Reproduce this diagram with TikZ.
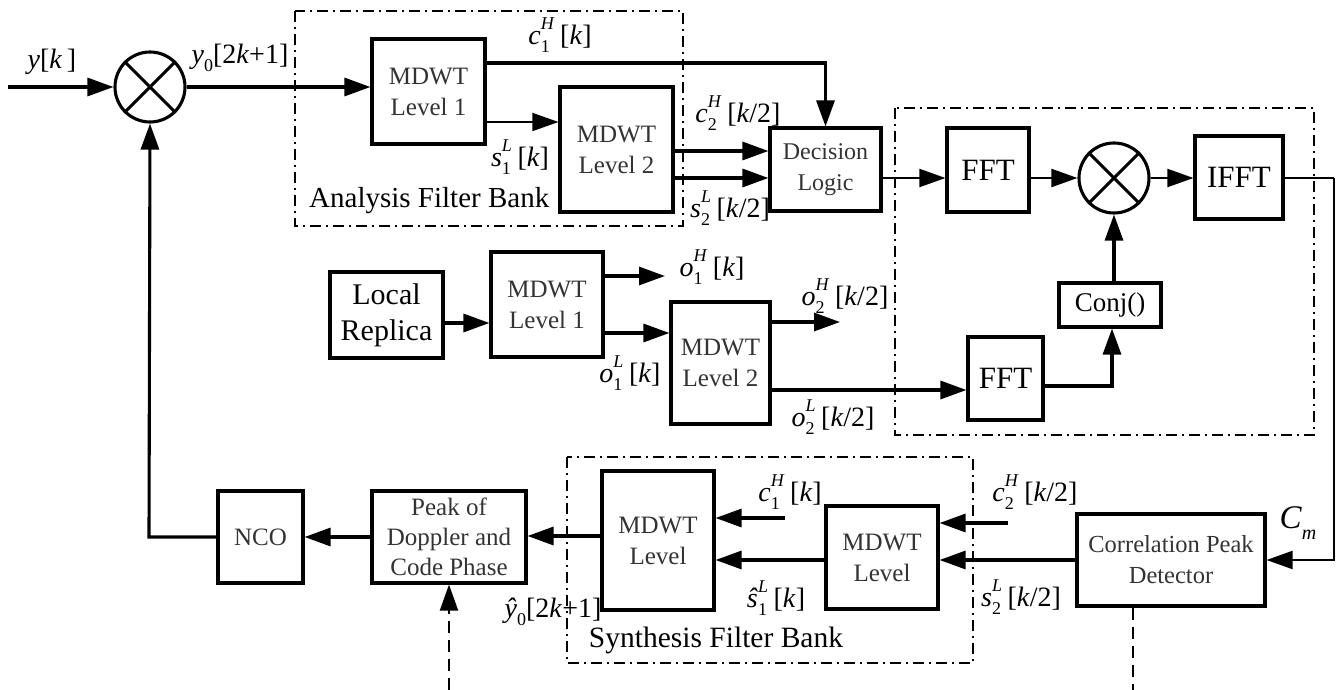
\documentclass[tikz,border=0pt]{standalone}
\usepackage{fontspec}
\setmainfont{Liberation Serif}
\usetikzlibrary{arrows.meta,calc}
\newcommand{\subsup}[3]{\textit{#1}\rlap{\raisebox{-0.28em}{\fontsize{18}{18}\selectfont #2}}\raisebox{0.52em}{\fontsize{18}{18}\selectfont\textit{#3}}\hspace{0.2em}}
\newcommand{\smallsub}[1]{\raisebox{-0.28em}{\fontsize{18}{18}\selectfont #1}}
\begin{document}
\begin{tikzpicture}[x=1pt,y=-1pt,
  blk/.style={draw, line width=3.1pt, inner sep=0pt, align=center, text=black!80},
  mixer/.style={draw, circle, line width=3.1pt, minimum size=70pt, inner sep=0pt},
  arr/.style={line width=3.1pt, -{Triangle[length=26pt,width=18pt]}},
  tarr/.style={line width=1.4pt, -{Triangle[length=26pt,width=18pt]}},
  marr/.style={line width=2pt, -{Triangle[length=26pt,width=18pt]}},
  grp/.style={line width=1.6pt, dash pattern=on 11pt off 5pt on 2pt off 5pt},
  dsh/.style={line width=2pt, dash pattern=on 12pt off 7pt},
  lbl/.style={font=\fontsize{28}{30}\selectfont, inner sep=0pt},
  bigtxt/.style={font=\fontsize{31}{34}\selectfont},
  smtxt/.style={font=\fontsize{25}{31}\selectfont}]
\useasboundingbox (0,0) rectangle (1336,690);

% group frames
\draw[grp] (295,11) rectangle (683,226);
\draw[grp] (895,108) rectangle (1314,435);
\draw[grp] (567,457) rectangle (973,663);

% blocks
\node[mixer] (mix1) at (150,87) {};
\draw[line width=3.1pt] (mix1.north east) -- (mix1.south west) (mix1.north west) -- (mix1.south east);
\node[blk, smtxt, minimum width=113pt, minimum height=105pt] (L1a) at (428.5,91.5) {MDWT\\Level 1};
\node[blk, smtxt, minimum width=113pt, minimum height=125pt] (L2a) at (616.5,149.5) {MDWT\\Level 2};
\node[blk, smtxt, font=\fontsize{24}{31}\selectfont, minimum width=111pt, minimum height=83pt] (Dec) at (825.5,169.5) {Decision\\Logic};
\node[blk, bigtxt, text=black, minimum width=82pt, minimum height=84pt] (FFT1) at (988,170) {FFT};
\node[mixer] (mix2) at (1114,178) {};
\draw[line width=3.1pt] (mix2.north east) -- (mix2.south west) (mix2.north west) -- (mix2.south east);
\node[blk, bigtxt, text=black, minimum width=88pt, minimum height=83pt] (IFFT) at (1239,177.5) {IFFT};
\node[blk, text=black, font=\fontsize{27}{30}\selectfont, minimum width=102pt, minimum height=44pt] (Conj) at (1110,305) {Conj()};
\node[blk, bigtxt, text=black, minimum width=75pt, minimum height=83pt] (FFT2) at (1005.5,378.5) {FFT};
\node[blk, text=black, font=\fontsize{30}{36}\selectfont, minimum width=113pt, minimum height=86pt] (LR) at (386.5,315) {Local\\Replica};
\node[blk, smtxt, minimum width=112pt, minimum height=105pt] (L1b) at (547,304.5) {MDWT\\Level 1};
\node[blk, smtxt, minimum width=99pt, minimum height=122pt] (L2b) at (720.5,363) {MDWT\\Level 2};
\node[blk, font=\fontsize{25}{30}\selectfont, minimum width=85pt, minimum height=92pt] (NCO) at (260.5,537) {NCO};
\node[blk, font=\fontsize{25}{30}\selectfont, minimum width=154pt, minimum height=92pt] (Peak) at (449,537) {Peak of\\Doppler and\\Code Phase};
\node[blk, smtxt, minimum width=112pt, minimum height=139pt] (SynL) at (658,540.5) {MDWT\\Level};
\node[blk, smtxt, minimum width=112pt, minimum height=103pt] (SynR) at (882,557.5) {MDWT\\Level};
\node[blk, font=\fontsize{24.5}{31}\selectfont, minimum width=188pt, minimum height=92pt] (CPD) at (1171,560) {Correlation Peak\\Detector};

% free ends
\coordinate (in) at (8,87);
\coordinate (o1Hend) at (665,276);
\coordinate (o2Hend) at (840,322);
\coordinate (rc) at (1334,178);
\coordinate (c2Hin) at (1008,523);
\coordinate (c1Hin) at (785,518);
\coordinate (fb) at (149,537);
\coordinate (bot1) at (1133,690);
\coordinate (bot2) at (449,690);

% connectors: analysis
\draw[arr] (in) -- (mix1.west);
\draw[arr] (mix1.east) -- (mix1.east -| L1a.west);
\draw[arr] ([yshift=28.5pt]L1a.east) -| (Dec.north);
\draw[tarr] ([yshift=-30.5pt]L1a.east) -- ([yshift=-30.5pt]L1a.east -| L2a.west);
\draw[arr] ([yshift=-1.5pt]L2a.east) -- ([yshift=-1.5pt]L2a.east -| Dec.west);
\draw[arr] ([yshift=-28.5pt]L2a.east) -- ([yshift=-28.5pt]L2a.east -| Dec.west);
\draw[marr] ([yshift=-8.5pt]Dec.east) -- ([yshift=-8.5pt]Dec.east -| FFT1.west);
\draw[marr] (mix2.west -| FFT1.east) -- (mix2.west);
\draw[marr] (mix2.east) -- (mix2.east -| IFFT.west);
\draw[arr] (Conj.north -| mix2.south) -- (mix2.south);
\draw[arr] ([yshift=-7.5pt]FFT2.east) -| ([xshift=2pt]Conj.south);
\draw[line width=2pt] (rc -| IFFT.east) -- (rc);
\draw[marr] (rc) |- (CPD.east);

% replica branch
\draw[arr] ([yshift=-8pt]LR.east) -- ([yshift=-8pt]LR.east -| L1b.west);
\draw[arr] ([yshift=28.5pt]L1b.east) -- (o1Hend);
\draw[arr] ([yshift=-28.5pt]L1b.east) -- ([yshift=-28.5pt]L1b.east -| L2b.west);
\draw[arr] ([yshift=41pt]L2b.east) -- (o2Hend);
\draw[arr] ([yshift=-27pt]L2b.east) -- ([yshift=-27pt]L2b.east -| FFT2.west);

% synthesis
\draw[arr] (CPD.west) -- (CPD.west -| SynR.east);
\draw[arr] (c2Hin) -- (c2Hin -| SynR.east);
\draw[arr] ([yshift=-2.5pt]SynR.west) -- ([yshift=-2.5pt]SynR.west -| SynL.east);
\draw[arr] (c1Hin) -- (c1Hin -| SynL.east);
\draw[arr] ([yshift=4.5pt]SynL.west) -- ([yshift=4.5pt]SynL.west -| Peak.east);
\draw[arr] (Peak.west) -- (Peak.west -| NCO.east);
\draw[arr] (NCO.west) -- (fb) -- (mix1.south);
\draw[dsh] (CPD.south -| bot1) -- (bot1);
\draw[dsh, -{Triangle[length=26pt,width=18pt]}] (bot2) -- (Peak.south);

% labels
\node[lbl] (tyk) at (52,62) {\textit{y}[\textit{k}\,]};
\node[lbl] (ty0) at (240,58) {\textit{y}\smallsub{0}[2\textit{k}+1]};
\node[lbl] (tc1H) at (560,35) {\subsup{c}{1}{H}[\textit{k}]};
\node[lbl] (ts1L) at (520,157) {\subsup{s}{1}{L}[\textit{k}]};
\node[lbl] (tc2H) at (738,113) {\subsup{c}{2}{H}[\textit{k}/2]};
\node[lbl] (ts2L) at (730,208) {\subsup{s}{2}{L}[\textit{k}/2]};
\node[lbl, anchor=west, font=\fontsize{29}{30}\selectfont] (tafb) at (309,201) {Analysis Filter Bank};
\node[lbl] (to1H) at (712,267) {\subsup{o}{1}{H}[\textit{k}]};
\node[lbl] (to2H) at (845,296) {\subsup{o}{2}{H}[\textit{k}/2]};
\node[lbl] (to1L) at (630,373) {\subsup{o}{1}{L}[\textit{k}]};
\node[lbl] (to2L) at (833,417) {\subsup{o}{2}{L}[\textit{k}/2]};
\node[lbl] (tc1Hs) at (790,492) {\subsup{c}{1}{H}[\textit{k}]};
\node[lbl] (ts1Ls) at (776,598) {\subsup{ŝ}{1}{L}[\textit{k}]};
\node[lbl] (ty0h) at (553,612) {\textit{ŷ}\smallsub{0}[2\textit{k}+1]};
\node[lbl, font=\fontsize{29.5}{30}\selectfont] (tsfb) at (716,640) {Synthesis Filter Bank};
\node[lbl] (tc2Hs) at (1035,492) {\subsup{c}{2}{H}[\textit{k}/2]};
\node[lbl] (ts2Ls) at (1021,597) {\subsup{s}{2}{L}[\textit{k}/2]};
\node[lbl, font=\fontsize{33}{35}\selectfont] (tCm) at (1298,523) {\textit{C}\raisebox{-0.35em}{\fontsize{20}{20}\selectfont\textit{m}}};
\end{tikzpicture}
\end{document}
